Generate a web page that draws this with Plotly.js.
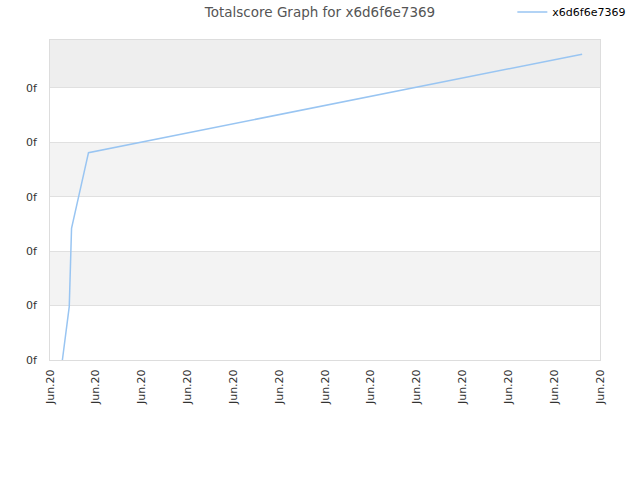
<!DOCTYPE html>
<html>
<head>
<meta charset="utf-8">
<script src="https://cdn.plot.ly/plotly-3.0.1.min.js"></script>
<style>html,body{margin:0;padding:0;background:#fff;}#chart{width:640px;height:480px;}</style>
</head>
<body>
<div id="chart"></div>
<script>
// Data
const seriesName = "x6d6f6e7369";
const xValues = [0.27, 0.42, 0.47, 0.84, 11.61];
const yValues = [0.00, 0.98, 2.42, 3.81, 5.62];
const xTickVals = [0,1,2,3,4,5,6,7,8,9,10,11,12];
const xTickText = ["Jun.20","Jun.20","Jun.20","Jun.20","Jun.20","Jun.20","Jun.20","Jun.20","Jun.20","Jun.20","Jun.20","Jun.20","Jun.20"];
const yTickVals = [0,1,2,3,4,5];
const yTickText = ["0f","0f","0f","0f","0f","0f"];
const yMax = 5.88;

// alternating bands
const shapes = [];
const bandEdges = yTickVals.concat([yMax]);
for (let i = 1; i < bandEdges.length - 1; i += 2) {
  shapes.push({type:'rect', xref:'paper', yref:'y', x0:0, x1:1, y0:bandEdges[i], y1:bandEdges[i+1],
    fillcolor: (i + 1 === bandEdges.length - 1) ? '#eeeeee' : '#f3f3f3', line:{width:0}, layer:'below'});
}

const trace = {x:xValues, y:yValues, type:'scatter', mode:'lines', name:seriesName,
  line:{color:'#99c5f2', width:1.5}};

const layout = {
  width:640, height:480,
  margin:{l:50, r:40, t:40, b:120, autoexpand:false},
  paper_bgcolor:'#ffffff', plot_bgcolor:'#ffffff',
  font:{family:'DejaVu Sans, sans-serif', size:11, color:'#333'},
  title:{text:'Totalscore Graph for x6d6f6e7369', x:0.5, xanchor:'center', y:0.975, yanchor:'middle',
    font:{family:'DejaVu Sans, sans-serif', size:13.5, color:'#555'}},
  showlegend:true,
  legend:{x:1.057, xanchor:'right', y:1.0875, yanchor:'middle', font:{size:11, color:'#000'}, bgcolor:'rgba(0,0,0,0)'},
  xaxis:{range:[0,12], tickvals:xTickVals, ticktext:xTickText, tickangle:-90, showgrid:false, zeroline:false,
    showline:true, linecolor:'#dddddd', mirror:true, ticks:'outside', ticklen:4, tickcolor:'rgba(0,0,0,0)',
    tickfont:{size:11, color:'#333'}, fixedrange:true},
  yaxis:{range:[0,yMax], tickvals:yTickVals, ticktext:yTickText, showgrid:true, gridcolor:'#e0e0e0', zeroline:false,
    showline:true, linecolor:'#dddddd', mirror:true, ticks:'outside', ticklen:10, tickcolor:'rgba(0,0,0,0)',
    tickfont:{size:11, color:'#333'}, fixedrange:true},
  shapes:shapes
};
Plotly.newPlot('chart', [trace], layout, {displayModeBar:false, staticPlot:true});
</script>
</body>
</html>
